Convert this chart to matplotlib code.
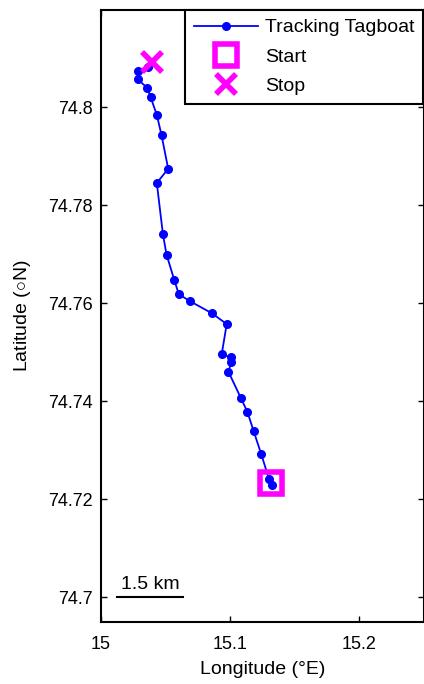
import matplotlib
matplotlib.use('Agg')
import matplotlib.pyplot as plt
from matplotlib.ticker import FormatStrFormatter

plt.rcParams['font.family'] = ['Liberation Sans', 'DejaVu Sans']
plt.rcParams['mathtext.fontset'] = 'custom'
plt.rcParams['mathtext.rm'] = 'Liberation Sans'

# track of the tagboat, from start (south) to stop (north)
track_lon = [15.1326, 15.1300, 15.1241, 15.1181, 15.1133, 15.1081, 15.0986, 15.1009,
             15.1009, 15.0934, 15.0973, 15.0859, 15.0687, 15.0602, 15.0566, 15.0507,
             15.0479, 15.0432, 15.0520, 15.0469, 15.0432, 15.0384, 15.0358, 15.0283,
             15.0283, 15.0363]
track_lat = [74.7229, 74.7241, 74.7291, 74.7339, 74.7378, 74.7407, 74.7460, 74.7479,
             74.7489, 74.7495, 74.7557, 74.7579, 74.7604, 74.7618, 74.7648, 74.7699,
             74.7741, 74.7845, 74.7874, 74.7942, 74.7984, 74.8020, 74.8039, 74.8057,
             74.8073, 74.8082]
start_lon, start_lat = 15.1318, 74.7232
stop_lon, stop_lat = 15.0391, 74.8092

# scale bar (1.5 km)
scale_lon = [15.0124, 15.0634]
scale_lat = [74.7, 74.7]
scale_text = '1.5 km'

xticks = [15, 15.1, 15.2]
yticks = [74.7, 74.72, 74.74, 74.76, 74.78, 74.8]

fig = plt.figure(figsize=(4.24, 6.84), dpi=100)
ax = fig.add_axes([0.2382, 0.0906, 0.7618, 0.8948])

ax.plot(track_lon, track_lat, '-o', color='#0000ff', lw=1.3, ms=5.5,
        label='Tracking Tagboat')
ax.plot(start_lon, start_lat, 's', color='#ff00ff', ms=16.5, mew=4,
        mfc='none', ls='none', label='Start')
ax.plot(stop_lon, stop_lat, 'x', color='#ff00ff', ms=14, mew=4,
        ls='none', label='Stop')

ax.plot(scale_lon, scale_lat, color='black', lw=1.5)
ax.text(sum(scale_lon) / 2, scale_lat[0] + 0.0008, scale_text, ha='center',
        va='bottom', fontsize=14)

ax.set_xlim(15, 15.25)
ax.set_ylim(74.6949, 74.8198)
ax.set_xticks(xticks)
ax.set_yticks(yticks)
ax.xaxis.set_major_formatter(FormatStrFormatter('%g'))
ax.yaxis.set_major_formatter(FormatStrFormatter('%g'))
ax.tick_params(direction='in', length=4, width=1, top=True, right=True,
               labelsize=13)
ax.tick_params(axis='x', pad=10)
ax.tick_params(axis='y', pad=6)
for s in ax.spines.values():
    s.set_linewidth(1.5)

ax.set_xlabel('Longitude (°E)', fontsize=14, labelpad=6)
ax.set_ylabel(r'Latitude ($\circ$N)', fontsize=14, labelpad=11)

leg = ax.legend(loc='upper left', bbox_to_anchor=(0.26, 1.0), fontsize=14,
                handlelength=3.3, handletextpad=0.36, borderpad=0.45,
                labelspacing=0.6, numpoints=1, fancybox=False,
                borderaxespad=0, framealpha=1)
leg.get_frame().set_edgecolor('black')
leg.get_frame().set_linewidth(1.5)

fig.savefig('out.png', dpi=100)
